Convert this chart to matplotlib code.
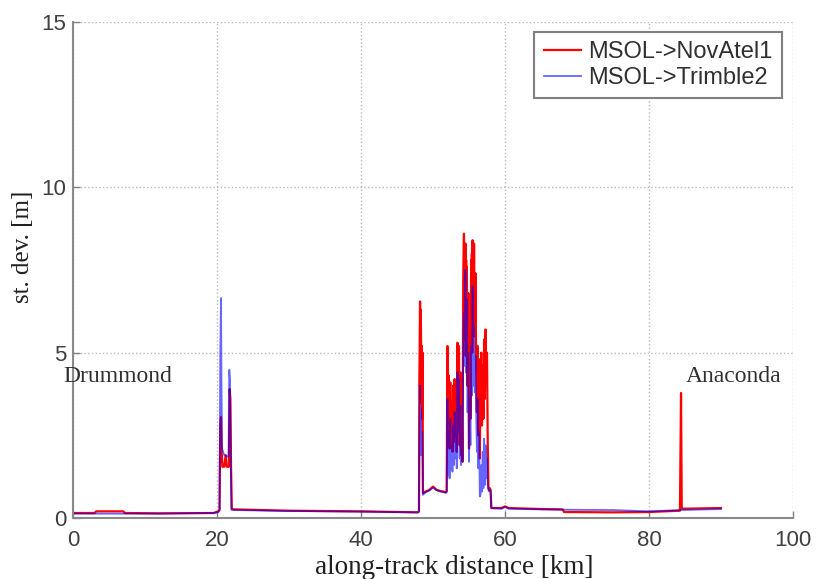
import numpy as np
import matplotlib.pyplot as plt

# along-track distance [km] and std. dev. [m], MSOL -> NovAtel1
x_nov = [0, 3.0, 3.2, 7.0, 7.2, 12, 19.5, 20.2, 20.35,
         20.45, 20.55, 20.65, 20.75, 21.0, 21.2, 21.35, 21.65, 21.75, 21.85, 21.95, 22.05,
         22.3, 30, 40, 47.9, 48.05,
         48.1, 48.2, 48.25, 48.3, 48.4, 48.45, 48.5, 48.55, 48.6,
         49.0, 49.5, 50.0, 50.5, 51.0, 51.8,
         51.9, 52.0, 52.1, 52.2, 52.3, 52.4, 52.5, 52.6, 52.7, 52.8, 52.9,
         53.0, 53.1, 53.2, 53.3, 53.4, 53.5, 53.6, 53.7, 53.8, 53.9,
         54.0, 54.1, 54.2, 54.3, 54.35, 54.4, 54.45, 54.5, 54.55, 54.6, 54.65, 54.7, 54.8, 54.9,
         55.0, 55.1, 55.2, 55.3, 55.35, 55.4, 55.45, 55.5, 55.55, 55.6, 55.65, 55.7, 55.8, 55.9,
         56.0, 56.1, 56.2, 56.3, 56.4, 56.5, 56.6, 56.7, 56.8, 56.9,
         57.0, 57.1, 57.2, 57.3, 57.4, 57.5, 57.6, 57.7, 57.8, 57.9, 58.0, 58.1,
         59.5, 60.0, 60.5, 65, 68, 68.2, 75, 80, 84.3, 84.45, 84.55, 84.6, 90]
y_nov = [0.15, 0.15, 0.2, 0.2, 0.15, 0.14, 0.15, 0.2, 0.25,
         2.8, 3.05, 2.0, 1.55, 1.55, 1.9, 1.55, 1.55, 3.9, 3.6, 1.5, 0.28,
         0.26, 0.22, 0.2, 0.17, 0.2,
         4.0, 6.55, 3.5, 6.3, 4.0, 5.2, 3.0, 5.0, 0.75,
         0.8, 0.85, 0.95, 0.85, 0.82, 0.78,
         0.8, 5.2, 3.2, 4.3, 2.1, 4.1, 2.4, 3.0, 2.0, 4.0, 2.3,
         4.2, 2.5, 3.4, 2.0, 5.3, 3.6, 5.2, 2.2, 4.4, 1.9,
         3.0, 1.7, 7.2, 8.6, 5.4, 7.9, 6.0, 8.3, 4.9, 7.8, 5.8, 7.6, 4.0, 6.8,
         2.1, 5.5, 3.0, 7.8, 6.1, 8.0, 5.0, 8.4, 6.6, 8.0, 6.2, 8.3, 5.5, 7.4,
         4.6, 3.2, 5.2, 2.5, 4.8, 1.8, 3.9, 5.0, 2.8, 4.6,
         3.0, 5.4, 3.6, 5.7, 4.2, 5.0, 2.3, 0.9, 0.85, 0.9, 0.85, 0.3,
         0.3, 0.35, 0.3, 0.27, 0.26, 0.18, 0.17, 0.18, 0.22, 3.78, 0.3, 0.28, 0.3]

# MSOL -> Trimble2
x_trm = [0, 12, 19.5, 20.2, 20.35,
         20.45, 20.55, 20.62, 20.7, 21.0, 21.6, 21.7, 21.8, 21.9, 22.0,
         22.3, 30, 40, 47.9, 48.05,
         48.1, 48.2, 48.25, 48.3, 48.4, 48.5, 48.6,
         49.0, 49.5, 50.0, 50.5, 51.0, 51.8,
         51.9, 52.0, 52.1, 52.2, 52.3, 52.4, 52.5, 52.6, 52.7, 52.8, 52.9,
         53.0, 53.1, 53.2, 53.3, 53.4, 53.5, 53.6, 53.7, 53.8, 53.9,
         54.0, 54.1, 54.2, 54.3, 54.4, 54.5, 54.6, 54.7, 54.8, 54.9,
         55.0, 55.1, 55.2, 55.3, 55.4, 55.5, 55.6, 55.7, 55.8, 55.9,
         56.0, 56.1, 56.2, 56.3, 56.4, 56.5, 56.6, 56.7, 56.8, 56.9,
         57.0, 57.1, 57.2, 57.3, 57.4, 57.5, 57.6, 57.7, 57.8, 57.9, 58.0, 58.1,
         59.5, 60.0, 60.5, 65, 68, 75, 80, 84.5, 90]
y_trm = [0.13, 0.13, 0.15, 0.18, 0.25,
         4.8, 6.65, 4.0, 2.1, 1.9, 1.85, 4.48, 4.2, 1.9, 0.25,
         0.24, 0.21, 0.19, 0.17, 0.2,
         2.0, 4.0, 1.9, 3.3, 1.9, 2.6, 0.7,
         0.78, 0.83, 0.92, 0.84, 0.8, 0.76,
         0.8, 3.6, 1.3, 2.6, 1.2, 3.0, 1.5, 2.1, 1.4, 2.8, 1.6,
         3.2, 1.8, 2.5, 1.5, 4.4, 2.6, 4.2, 1.8, 3.4, 1.6,
         2.4, 1.7, 4.9, 6.2, 4.6, 7.5, 4.4, 6.6, 3.2, 5.0,
         1.7, 3.6, 2.2, 5.2, 3.7, 7.0, 4.0, 5.8, 3.8, 4.9,
         3.2, 2.0, 3.6, 1.5, 2.6, 0.65, 0.7, 1.6, 0.8, 2.0,
         0.9, 2.4, 1.0, 2.2, 1.2, 1.8, 1.0, 0.85, 0.8, 0.85, 0.8, 0.3,
         0.28, 0.33, 0.28, 0.26, 0.25, 0.24, 0.2, 0.24, 0.27]

tick_col = '#404040'

fig = plt.figure(figsize=(8.17, 5.79), dpi=100)
ax = fig.add_axes([0.0894, 0.1054, 0.8812, 0.8566])

ax.plot(x_nov, y_nov, color='#ff0000', lw=1.6, label='MSOL->NovAtel1')
ax.plot(x_trm, y_trm, color='#0000ff', lw=1.3, alpha=0.6, label='MSOL->Trimble2')

ax.set_xlim(0, 100)
ax.set_ylim(0, 15)
ax.set_xticks([0, 20, 40, 60, 80, 100])
ax.set_yticks([0, 5, 10, 15])
ax.tick_params(direction='in', length=5, width=1, color='#808080',
               labelsize=16, labelcolor=tick_col)
ax.tick_params(axis='x', pad=9)
ax.tick_params(axis='y', pad=5)
for lab in ax.get_xticklabels() + ax.get_yticklabels():
    lab.set_family('Liberation Sans')

ax.grid(True, linestyle=':', color='#b8b8b8', lw=1)
ax.spines['top'].set_visible(False)
ax.spines['right'].set_visible(False)
for s in ['left', 'bottom']:
    ax.spines[s].set_color('#8a8a8a')
    ax.spines[s].set_linewidth(1.5)

ax.set_xlabel('along-track distance [km]', family='Liberation Serif', fontsize=19.5, color='#202020')
ax.set_ylabel('st. dev. [m]', family='Liberation Serif', fontsize=18, color='#202020')
ax.xaxis.set_label_coords(0.53, -0.074)
ax.yaxis.set_label_coords(-0.054, 0.546)

ax.text(-1.4, 4.27, 'Drummond', family='Liberation Serif', fontsize=17,
        color='#303030', ha='left', va='center', clip_on=False)
ax.text(85.1, 4.27, 'Anaconda', family='Liberation Serif', fontsize=17,
        color='#303030', ha='left', va='center')

leg = ax.legend(loc='upper right', bbox_to_anchor=(0.985, 0.98), borderaxespad=0,
                fancybox=False, prop={'family': 'Liberation Sans', 'size': 17},
                handlelength=1.6, handletextpad=0.3, borderpad=0.4, labelspacing=0.15,
                framealpha=1)
leg.get_frame().set_edgecolor('#808080')
leg.get_frame().set_linewidth(1.5)
for t in leg.get_texts():
    t.set_color('#303030')

fig.savefig('out.png', dpi=100)
